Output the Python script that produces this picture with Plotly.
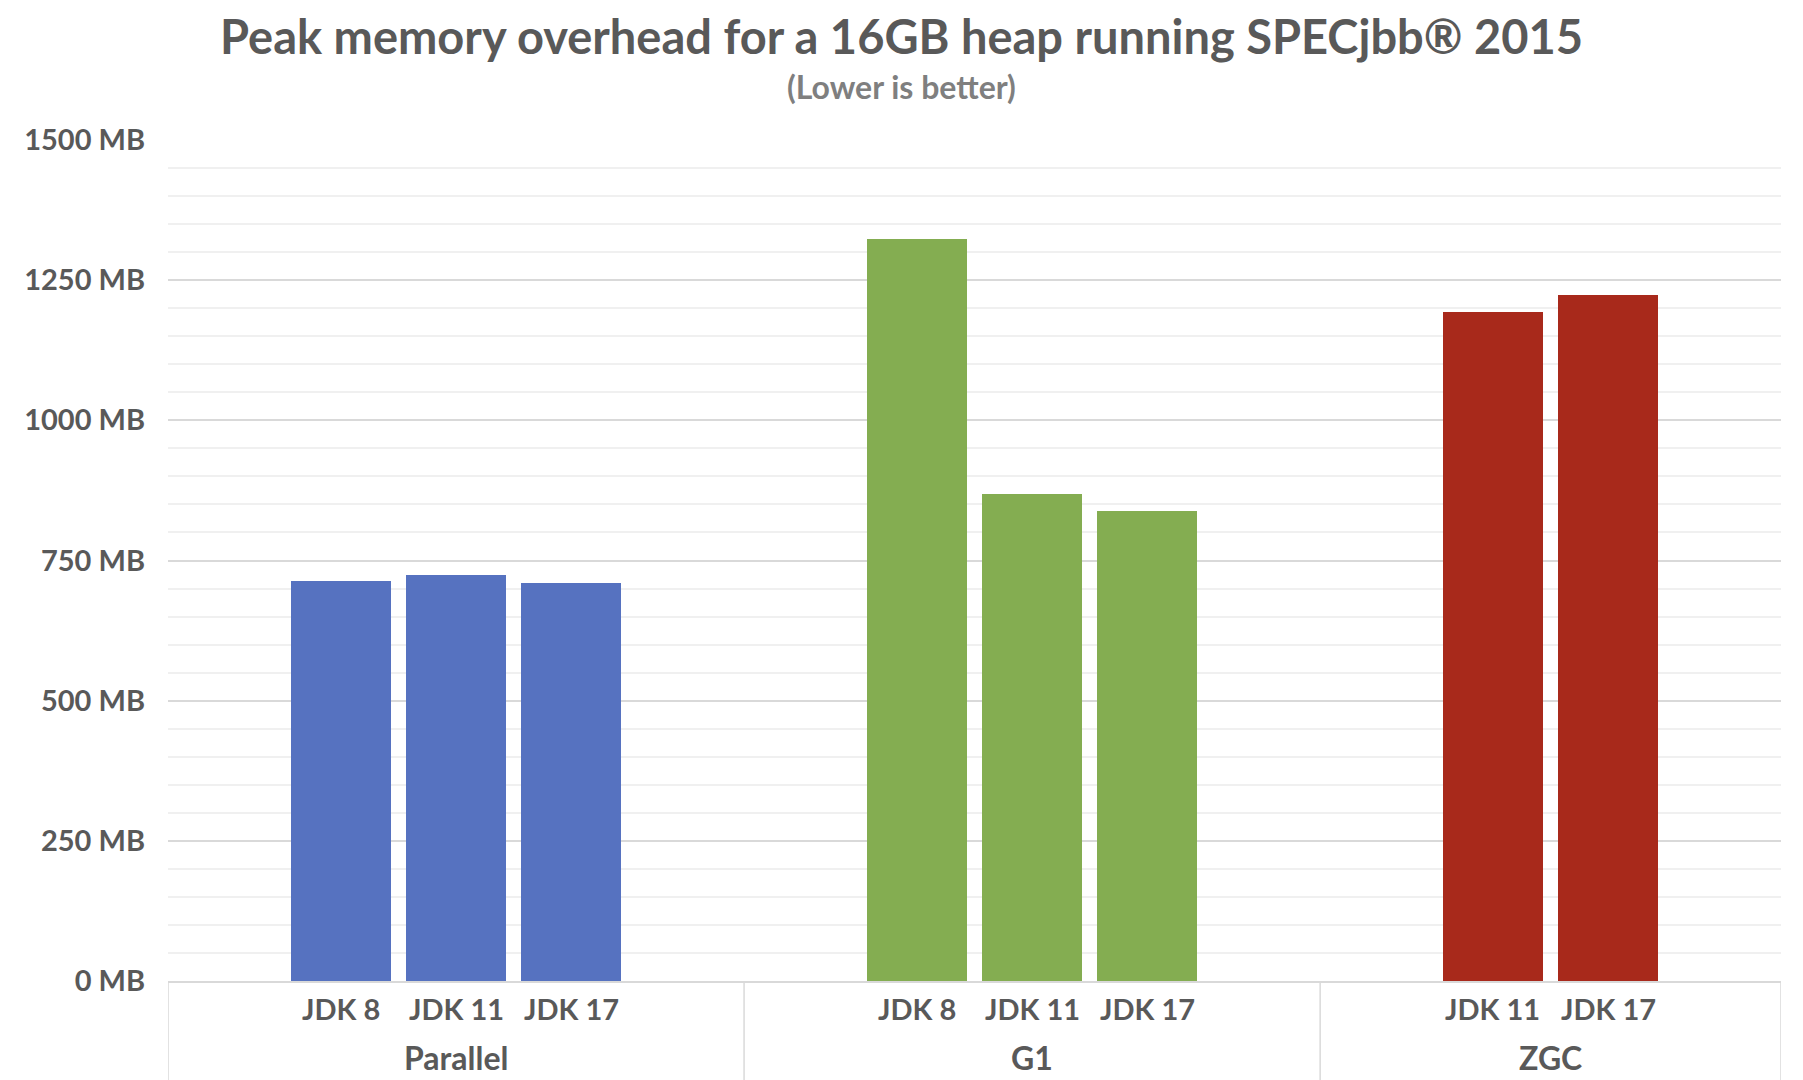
import plotly.graph_objects as go

# ---- data ----
groups = ["Parallel", "G1", "ZGC"]
parallel_labels = ["JDK 8", "JDK 11", "JDK 17"]
parallel_values = [714, 724, 710]
g1_labels = ["JDK 8", "JDK 11", "JDK 17"]
g1_values = [1323, 869, 839]
zgc_labels = ["JDK 11", "JDK 17"]
zgc_values = [1194, 1224]
y_ticks = [0, 250, 500, 750, 1000, 1250, 1500]
y_tick_text = [f"{v} MB" for v in y_ticks]

colors = ["#5672C0", "#84AD51", "#A8291B"]
text_color = "#595959"
FONT = "Lato"

W, H = 1803, 1080
ML, MR, MT, MB = 168, 22, 140, 99
plot_w = W - ML - MR

# slot layout: one blank slot before and after each group's bars
series = [(parallel_labels, parallel_values), (g1_labels, g1_values), (zgc_labels, zgc_values)]
slot = 0
group_bounds = []
tick_pos, tick_txt = [], []
fig = go.Figure()
for (labels, values), col, name in zip(series, colors, groups):
    start = slot
    slot += 1
    xs = list(range(slot, slot + len(labels)))
    slot += len(labels) + 1
    group_bounds.append((start - 0.5, slot - 0.5))
    tick_pos += xs
    tick_txt += labels
    fig.add_trace(go.Bar(x=xs, y=values, name=name, marker=dict(color=col, line=dict(width=0)),
                         width=0.87, showlegend=False))

n_slots = slot

# category labels (two levels)
for x, t in zip(tick_pos, tick_txt):
    fig.add_annotation(x=x, y=0, xref="x", yref="paper", text=t, showarrow=False,
                       yanchor="middle", yshift=-27,
                       font=dict(family=FONT, size=29, color=text_color, weight="bold"))
for (a, b), g in zip(group_bounds, groups):
    fig.add_annotation(x=(a + b) / 2, y=0, xref="x", yref="paper", text=g, showarrow=False,
                       yanchor="middle", yshift=-76,
                       font=dict(family=FONT, size=32, color=text_color, weight="bold"))

# divider lines of the category box
edges = sorted(set([e for ab in group_bounds for e in ab]))
for e in edges:
    fig.add_shape(type="line", xref="x", yref="paper", x0=e, x1=e, y0=0, y1=-0.13,
                  line=dict(color="#D9D9D9", width=1.5))

page_center = (W / 2 - ML) / plot_w
fig.add_annotation(x=page_center, y=1, xref="paper", yref="paper", yanchor="middle",
                   text="(Lower is better)", showarrow=False, yshift=MT - 86,
                   font=dict(family=FONT, size=32, color="#7F7F7F", weight="bold"))

fig.update_layout(
    width=W, height=H,
    margin=dict(l=ML, r=MR, t=MT, b=MB),
    paper_bgcolor="white", plot_bgcolor="white",
    bargap=0,
    title=dict(text="Peak memory overhead for a 16GB heap running SPECjbb® 2015",
               x=0.5, xref="container", xanchor="center",
               y=1 - 38 / H, yref="container", yanchor="middle",
               font=dict(family=FONT, size=47, color=text_color, weight="bold")),
    xaxis=dict(range=[-0.5, n_slots - 0.5], showticklabels=False, showgrid=False,
               zeroline=False, showline=True, linecolor="#D9D9D9", linewidth=1.5,
               fixedrange=True),
    yaxis=dict(range=[0, 1500], tickmode="array", tickvals=y_ticks, ticktext=y_tick_text,
               tickfont=dict(family=FONT, size=29, color=text_color, weight="bold"),
               showgrid=True, gridcolor="#D9D9D9", gridwidth=1.5, zeroline=False,
               ticklabelstandoff=22,
               minor=dict(dtick=50, showgrid=True, gridcolor="#F0F0F0", gridwidth=1.5)),
)

fig.write_html("out.html")
